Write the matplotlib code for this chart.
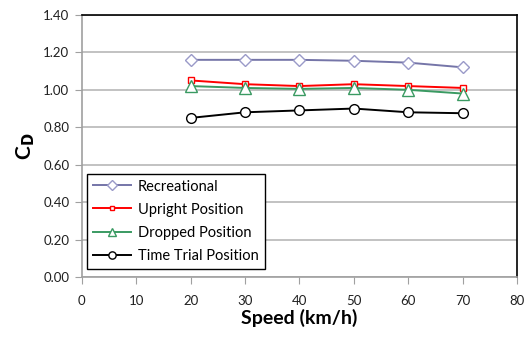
import matplotlib
matplotlib.use("Agg")
import matplotlib.pyplot as plt

speed = [20, 30, 40, 50, 60, 70]
recreational = [1.16, 1.16, 1.16, 1.155, 1.145, 1.12]
upright = [1.05, 1.03, 1.02, 1.03, 1.02, 1.01]
dropped = [1.02, 1.01, 1.005, 1.01, 1.00, 0.98]
time_trial = [0.85, 0.88, 0.89, 0.90, 0.88, 0.875]

plt.rcParams['font.family'] = ['Lato', 'DejaVu Sans']

fig = plt.figure(figsize=(5.31, 3.38), dpi=100)
ax = fig.add_axes([0.154, 0.180, 0.820, 0.776])

ax.plot(speed, recreational, color="#7575a8", lw=1.4, marker="D", ms=6.5,
        mfc="white", mec="#9a9ac8", mew=1.0, label="Recreational")
ax.plot(speed, upright, color="#ff0000", lw=1.4, marker="s", ms=4.5,
        mfc="white", mec="#ff0000", mew=1.0, label="Upright Position")
ax.plot(speed, dropped, color="#3a9a62", lw=1.4, marker="^", ms=8,
        mfc="white", mec="#3a9a62", mew=1.0, label="Dropped Position")
ax.plot(speed, time_trial, color="black", lw=1.4, marker="o", ms=7,
        mfc="white", mec="black", mew=1.0, label="Time Trial Position")

ax.set_xlim(0, 80)
ax.set_ylim(0, 1.4)
ax.set_xticks(range(0, 81, 10))
ax.set_yticks([i * 0.2 for i in range(8)])
ax.set_yticklabels(["%.2f" % (i * 0.2) for i in range(8)])
ax.grid(axis="y", color="#b8b8b8", lw=1.2)
ax.set_axisbelow(True)

for s in ["left", "bottom"]:
    ax.spines[s].set_color("#a0a0a0")
    ax.spines[s].set_linewidth(1.2)
for s in ["top", "right"]:
    ax.spines[s].set_color("black")
    ax.spines[s].set_linewidth(1.2)

ax.tick_params(axis="both", direction="out", length=5, color="#a0a0a0",
               labelsize=9.5, labelcolor="#202020", pad=4)
ax.tick_params(axis="x", pad=8)

ax.set_xlabel("Speed (km/h)", fontsize=14, fontweight="bold", labelpad=1)
ax.set_ylabel("C$_\\mathbf{D}$", fontsize=15, fontweight="bold", labelpad=4)

leg = ax.legend(loc="lower left", bbox_to_anchor=(0.012, 0.033), fontsize=10.5,
                fancybox=False, edgecolor="black", framealpha=1,
                handlelength=2.6, borderpad=0.4, labelspacing=0.62,
                markerscale=0.75, handletextpad=0.5, borderaxespad=0)
leg.get_frame().set_linewidth(1.0)

fig.savefig("out.png", dpi=100)
